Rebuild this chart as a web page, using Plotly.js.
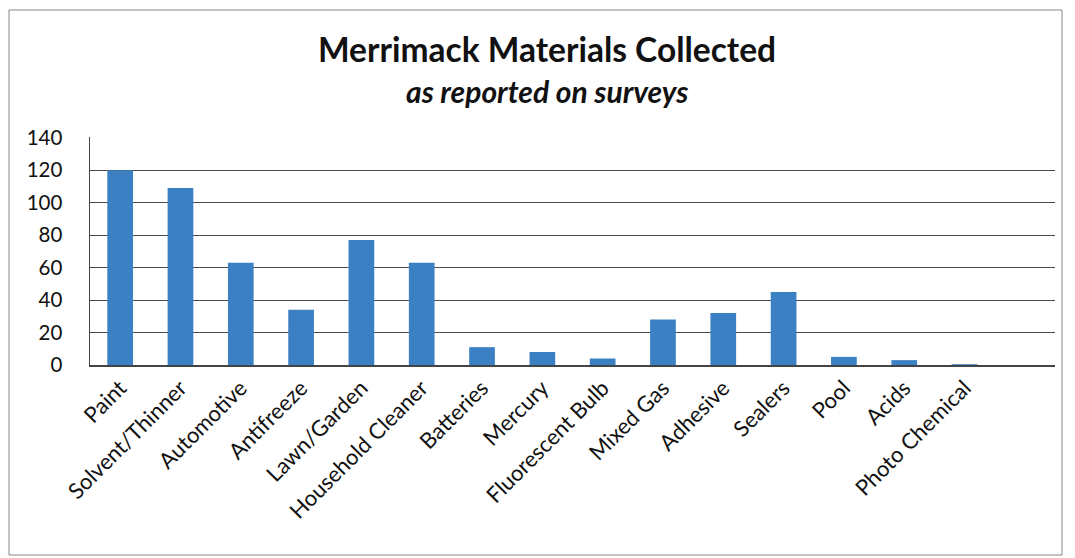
<!DOCTYPE html>
<html>
<head>
<meta charset="utf-8">
<script src="https://cdn.plot.ly/plotly-3.0.1.min.js"></script>
<style>
html,body{margin:0;padding:0;background:#fff;}
#chart{width:1075px;height:558px;}
</style>
</head>
<body>
<div id="chart"></div>
<script>
const categories = ["Paint","Solvent/Thinner","Automotive","Antifreeze","Lawn/Garden","Household Cleaner","Batteries","Mercury","Fluorescent Bulb","Mixed Gas","Adhesive","Sealers","Pool","Acids","Photo Chemical"];
const collected = [120,109,63,34,77,63,11,8,4,28,32,45,5,3,0.5];
const yTicks = [0,20,40,60,80,100,120,140];

const trace = {
  type: 'bar',
  x: categories,
  y: collected,
  marker: {color: '#3b80c3'},
  hoverinfo: 'x+y'
};

const layout = {
  width: 1075,
  height: 558,
  margin: {l: 90, r: 20, t: 137, b: 193},
  paper_bgcolor: '#ffffff',
  plot_bgcolor: '#ffffff',
  bargap: 0.574,
  showlegend: false,
  font: {family: 'Lato, "Open Sans", sans-serif', color: '#111'},
  title: {
    text: '<b>Merrimack Materials Collected</b>',
    font: {size: 33.5, color: '#111', family: 'Lato, "Open Sans", sans-serif'},
    x: (547-90)/965, xref: 'paper', xanchor: 'center',
    y: 1 - 50/558, yref: 'container', yanchor: 'middle'
  },
  annotations: [{
    text: '<b><i>as reported on surveys</i></b>',
    xref: 'paper', yref: 'paper', x: (547-90)/965, y: (365-91)/228,
    xanchor: 'center', yanchor: 'middle', showarrow: false,
    font: {size: 30, color: '#111', family: 'Lato, "Open Sans", sans-serif'}
  }],
  xaxis: {
    type: 'category',
    range: [-0.5, 15.5],
    tickangle: -45,
    tickfont: {size: 22, color: '#111'},
    showline: true, linecolor: '#444', linewidth: 1.5,
    ticks: '', showgrid: false
  },
  yaxis: {
    range: [0, 140.4],
    tickvals: yTicks,
    tickfont: {size: 20.5, color: '#111'},
    ticklabelstandoff: 22,
    showgrid: true, gridcolor: '#4a4a4a', gridwidth: 1,
    showline: true, linecolor: '#444', linewidth: 1.5,
    zeroline: false, ticks: '', ticklen: 0
  },
  shapes: [{
    type: 'rect', xref: 'paper', yref: 'paper',
    x0: (9-90)/965, x1: (1062-90)/965,
    y0: (365-555)/228, y1: (365-10)/228,
    line: {color: '#888', width: 1}, fillcolor: 'rgba(0,0,0,0)'
  }]
};

Plotly.newPlot('chart', [trace], layout, {displayModeBar: false, staticPlot: true});
</script>
</body>
</html>
